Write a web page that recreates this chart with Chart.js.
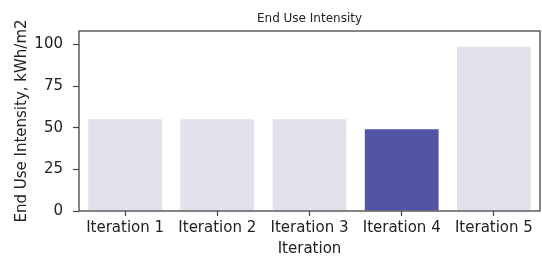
<!DOCTYPE html>
<html>
<head>
<meta charset="utf-8">
<script src="https://cdn.jsdelivr.net/npm/chart.js@4/dist/chart.umd.min.js"></script>
<style>
    html, body { margin: 0; padding: 0; background: #fff; }
    #euiChart { display: block; }
</style>
</head>
<body>
<canvas id="euiChart" width="542" height="258"></canvas>
<script>
// Dữ liệu biểu đồ
const iterations = ['Iteration 1', 'Iteration 2', 'Iteration 3', 'Iteration 4', 'Iteration 5'];
const euiValues = [55, 55, 55, 49, 98.6];
const yTickValues = [0, 25, 50, 75, 100];
const highlightIndex = 3;
const chartTitle = 'End Use Intensity';

const FONT = 'DejaVu Sans';
const TEXT_COLOR = '#222';
const AXIS_COLOR = '#444';

// Vẽ khung quanh vùng biểu đồ (giống spines của matplotlib) và tiêu đề căn giữa vùng vẽ
const frameBox = {
    id: 'frameBox',
    afterDatasetsDraw(chart) {
        const { ctx, chartArea: a } = chart;
        ctx.save();
        ctx.strokeStyle = AXIS_COLOR;
        ctx.lineWidth = 1.3;
        ctx.strokeRect(a.left, a.top, a.right - a.left, a.bottom - a.top);

        ctx.fillStyle = TEXT_COLOR;
        ctx.font = `12px "${FONT}"`;
        ctx.textAlign = 'center';
        ctx.textBaseline = 'alphabetic';
        ctx.fillText(chartTitle, (a.left + a.right) / 2, 22);
        ctx.restore();
    }
};

/**
 * Khởi tạo biểu đồ EUI
 * @returns {Object|null} Chart instance hoặc null nếu có lỗi
 */
function initEuiChart() {
    const canvas = document.getElementById('euiChart');
    if (!canvas) {
        console.error('Không tìm thấy canvas euiChart');
        return null;
    }

    const colors = euiValues.map((_, i) => i === highlightIndex ? '#5254a6' : '#e2e0eb');

    try {
        return new Chart(canvas.getContext('2d'), {
            type: 'bar',
            data: {
                labels: iterations,
                datasets: [{
                    data: euiValues,
                    backgroundColor: colors,
                    borderWidth: 0,
                    categoryPercentage: 0.8,
                    barPercentage: 1.0
                }]
            },
            options: {
                responsive: false,
                animation: false,
                layout: { padding: { left: 0, right: 2, top: 31, bottom: 0 } },
                plugins: {
                    legend: { display: false },
                    tooltip: { enabled: false },
                    title: { display: false }
                },
                scales: {
                    x: {
                        grid: {
                            display: true,
                            offset: false,
                            drawOnChartArea: false,
                            drawTicks: true,
                            tickLength: 5,
                            tickColor: AXIS_COLOR,
                            tickWidth: 1.2
                        },
                        border: { display: false },
                        ticks: {
                            color: TEXT_COLOR,
                            padding: 3,
                            maxRotation: 0,
                            font: { family: FONT, size: 15 }
                        },
                        title: {
                            display: true,
                            text: 'Iteration',
                            color: TEXT_COLOR,
                            font: { family: FONT, size: 15 },
                            padding: { top: 0, bottom: 0 }
                        },
                        afterFit(scale) { scale.height = 47; }
                    },
                    y: {
                        min: 0,
                        max: 108,
                        grid: {
                            display: true,
                            drawOnChartArea: false,
                            drawTicks: true,
                            tickLength: 6,
                            tickColor: AXIS_COLOR,
                            tickWidth: 1.2
                        },
                        border: { display: false },
                        ticks: {
                            color: TEXT_COLOR,
                            padding: 10,
                            font: { family: FONT, size: 15 }
                        },
                        afterBuildTicks(scale) {
                            scale.ticks = yTickValues.map(v => ({ value: v }));
                        },
                        title: {
                            display: true,
                            text: 'End Use Intensity, kWh/m2',
                            color: TEXT_COLOR,
                            font: { family: FONT, size: 15 },
                            padding: { top: 13, bottom: 0 }
                        },
                        afterFit(scale) { scale.width = 79; }
                    }
                }
            },
            plugins: [frameBox]
        });
    } catch (error) {
        console.error('Lỗi khi khởi tạo biểu đồ EUI:', error);
        return null;
    }
}

initEuiChart();
</script>
</body>
</html>
